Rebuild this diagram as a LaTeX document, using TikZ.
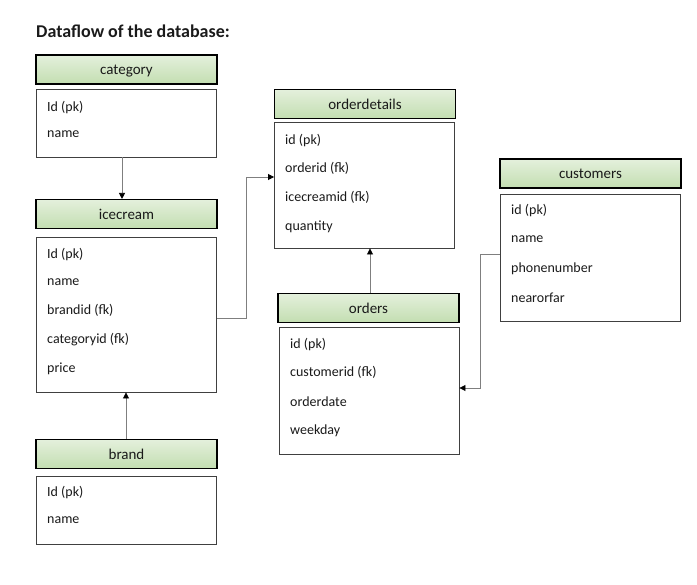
\documentclass[tikz,border=0pt]{standalone}
\usepackage{fontspec}
\setmainfont{Carlito}
\usetikzlibrary{arrows.meta,calc}
\definecolor{hdtop}{HTML}{E4F0DC}
\definecolor{hdbot}{HTML}{C3DEB1}
\definecolor{lnk}{HTML}{7F7F7F}
\definecolor{bodyline}{HTML}{404040}
\definecolor{txt}{HTML}{1A1A1A}
\begin{document}
\begin{tikzpicture}[x=1pt,y=-1pt,
 hdr/.style={draw=black, line width=1.1pt, top color=hdtop, bottom color=hdbot,
   minimum width=181pt, minimum height=29pt, inner sep=0pt, text=txt,
   text height=11pt, text depth=0pt,
   font=\fontsize{15}{18}\selectfont},
 tbody/.style={draw=bodyline, line width=0.9pt, fill=white, inner sep=0pt, minimum width=180pt},
 fld/.style={anchor=west, inner sep=0pt, text=txt, yshift=-1.5pt, font=\fontsize{14}{16}\selectfont},
 conn/.style={draw=lnk, line width=0.8pt, -{Triangle[width=6pt,length=6pt,color=black]}},
]
\useasboundingbox (0,0) rectangle (697,585);

\node[anchor=west, inner sep=0pt, text=txt, font=\bfseries\fontsize{18}{21}\selectfont] (title) at (36,31) {Dataflow of the database:};

% category
\node[hdr] (cath) at (126.5,69.5) {category};
\node[tbody, minimum height=68pt] (catb) at (126,123) {};
\node[fld] (catf1) at (47,106) {Id (pk)};
\node[fld] (catf2) at (47,133) {name};

% icecream
\node[hdr] (iceh) at (126.5,214) {icecream};
\node[tbody, minimum height=155pt] (iceb) at (126.5,314.5) {};
\node[fld] (icef1) at (47,253) {Id (pk)};
\node[fld] (icef2) at (47,281) {name};
\node[fld] (icef3) at (47,309) {brandid (fk)};
\node[fld] (icef4) at (47,338) {categoryid (fk)};
\node[fld] (icef5) at (47,367) {price};

% brand
\node[hdr] (brh) at (126.5,454) {brand};
\node[tbody, minimum height=68pt] (brb) at (126,510) {};
\node[fld] (brf1) at (47,491) {Id (pk)};
\node[fld] (brf2) at (47,519) {name};

% orderdetails
\node[hdr] (odh) at (365,104) {orderdetails};
\node[tbody, minimum height=126pt] (odb) at (364.5,185) {};
\node[fld] (odf1) at (285,139) {id (pk)};
\node[fld] (odf2) at (285,167) {orderid (fk)};
\node[fld] (odf3) at (285,196) {icecreamid (fk)};
\node[fld] (odf4) at (285,225) {quantity};

% orders
\node[hdr] (orh) at (368.5,308) {orders};
\node[tbody, minimum height=127pt] (orb) at (369,390.5) {};
\node[fld] (orf1) at (290,343) {id (pk)};
\node[fld] (orf2) at (290,371) {customerid (fk)};
\node[fld] (orf3) at (290,400) {orderdate};
\node[fld] (orf4) at (290,429) {weekday};

% customers
\node[hdr] (cuh) at (590.5,173.5) {customers};
\node[tbody, minimum height=127pt] (cub) at (590,257.5) {};
\node[fld] (cuf1) at (511,209) {id (pk)};
\node[fld] (cuf2) at (511,238) {name};
\node[fld] (cuf3) at (511,267) {phonenumber};
\node[fld] (cuf4) at (511,296) {nearorfar};

% connectors
\draw[conn] ([xshift=-4pt]catb.south) -- ([xshift=-4.5pt]iceh.north);
\draw[conn] ([yshift=-3.5pt]iceb.east) -| (246,177) -- ([yshift=8pt]odb.west);
\draw[conn] ([xshift=1.5pt]orh.north) -- ([xshift=1.5pt]orh.north |- odb.south);
\draw[conn] ([yshift=3.5pt]cub.west) -- ++(-19,0) |- ([yshift=2.5pt]orb.east);
\draw[conn] ([xshift=-0.5pt]brh.north) -- ([xshift=-0.5pt]brh.north |- iceb.south);
\end{tikzpicture}
\end{document}
